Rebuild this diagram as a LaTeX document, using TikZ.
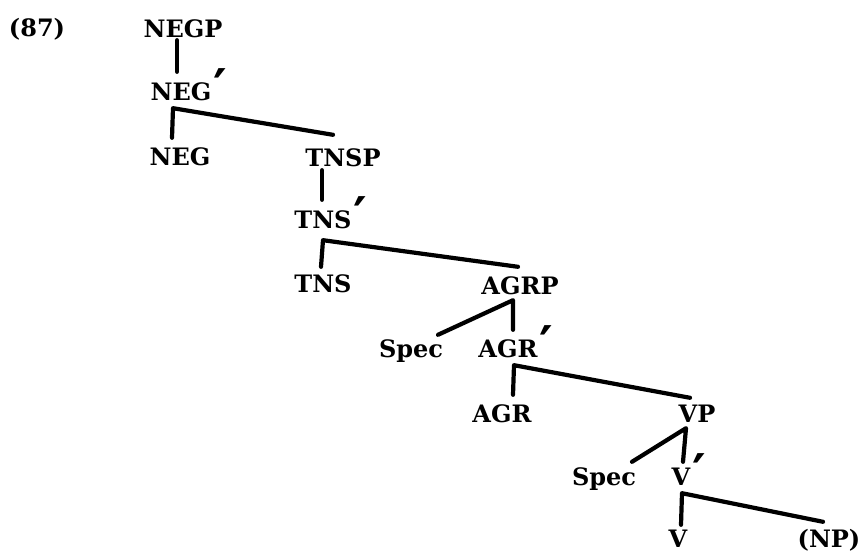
\documentclass[tikz,border=0pt]{standalone}
\usepackage{fontspec}
\setmainfont{DejaVu Serif}
\newcommand{\barmark}{\rlap{\kern2pt\raisebox{-6pt}{\fontsize{52}{52}\selectfont ′}}}

\begin{document}
\begin{tikzpicture}[x=1pt,y=-1pt]
\tikzstyle{cat} = [font=\fontsize{24}{24}\selectfont\bfseries,inner sep=0pt,text height=18pt,text depth=0pt,anchor=base]
\tikzstyle{branch} = [line width=4.2pt,line cap=round,line join=round]
\useasboundingbox (0,0) rectangle (862,553);

\node[cat] (ex) at (37,37) {(87)};
\node[cat] (negp) at (183,38) {NEGP};
\node[cat] (negbar) at (181,101) {NEG\barmark};
\node[cat] (neg) at (180,166) {NEG};
\node[cat] (tnsp) at (343,167) {TNSP};
\node[cat] (tnsbar) at (323,229) {TNS\barmark};
\node[cat] (tns) at (323,293) {TNS};
\node[cat] (agrp) at (520,295) {AGRP};
\node[cat] (spec1) at (411,357) {Spec};
\node[cat] (agrbar) at (508,357) {AGR\barmark};
\node[cat] (agr) at (502,422) {AGR};
\node[cat] (vp) at (697,422) {VP};
\node[cat] (spec2) at (604,485) {Spec};
\node[cat] (vbar) at (681,485) {V\barmark};
\node[cat] (v) at (678,547) {V};
\node[cat] (np) at (829,547) {(NP)};

\draw[branch] ([shift={(-6,2)}]negp.south) -- ([shift={(-4,-11)}]negbar.north);
\draw[branch] ([shift={(-8,-10)}]neg.north) -- ([shift={(-8,7)}]negbar.south) -- ([shift={(-10,-14)}]tnsp.north);
\draw[branch] ([shift={(-21,3)}]tnsp.south) -- ([shift={(-1,-11)}]tnsbar.north);
\draw[branch] ([shift={(-2,-8)}]tns.north) -- ([shift={(0,11)}]tnsbar.south) -- ([shift={(-2,-10)}]agrp.north);
\draw[branch] ([shift={(27,-4)}]spec1.north) -- ([shift={(-7,5)}]agrp.south) -- ([shift={(5,-9)}]agrbar.north);
\draw[branch] ([shift={(11,-9)}]agr.north) -- ([shift={(6,8)}]agrbar.south) -- ([shift={(-7,-6)}]vp.north);
\draw[branch] ([shift={(28,-5)}]spec2.north) -- ([shift={(-11,6)}]vp.south) -- ([shift={(2,-5)}]vbar.north);
\draw[branch] ([shift={(3,-4)}]v.north) -- ([shift={(1,8)}]vbar.south) -- ([shift={(-6,-7)}]np.north);
\end{tikzpicture}
\end{document}
